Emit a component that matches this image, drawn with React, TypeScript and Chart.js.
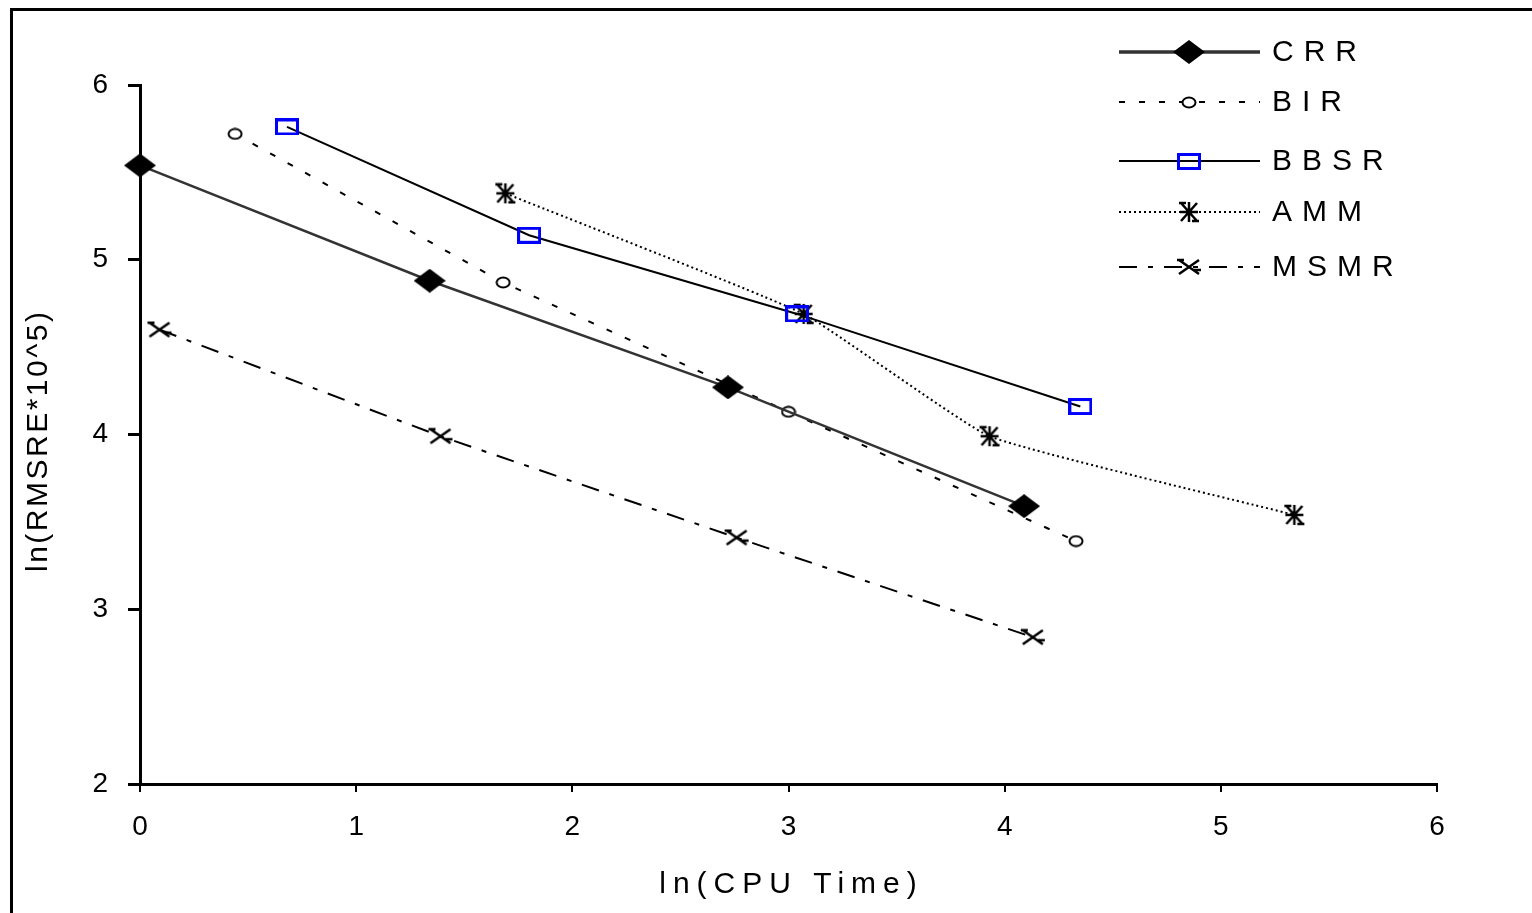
import React, { useEffect, useRef } from 'react';
import { Chart, registerables } from 'chart.js';

Chart.register(...registerables);

// ---- data ----
const seriesNames = ['CRR', 'BIR', 'BBSR', 'AMM', 'MSMR'];

const crrX = [0, 1.34, 2.72, 4.09];
const crrY = [5.54, 4.88, 4.27, 3.59];

const birX = [0.44, 1.68, 3.0, 4.33];
const birY = [5.72, 4.87, 4.13, 3.39];

const bbsrX = [0.68, 1.8, 3.04, 4.35];
const bbsrY = [5.76, 5.14, 4.69, 4.16];

const ammX = [1.69, 3.07, 3.93, 5.34];
const ammY = [5.38, 4.69, 3.99, 3.54];

const msmrX = [0.09, 1.39, 2.76, 4.13];
const msmrY = [4.6, 3.99, 3.41, 2.84];

const xTicks = [0, 1, 2, 3, 4, 5, 6];
const yTicks = [2, 3, 4, 5, 6];

const xTitle = 'ln(CPU Time)';
const yTitle = 'ln(RMSRE*10^5)';

const FONT = '"Liberation Sans", Arial, sans-serif';

function markerCanvas(w: number, h: number, draw: (g: CanvasRenderingContext2D, w: number, h: number) => void) {
  const c = document.createElement('canvas');
  c.width = w;
  c.height = h;
  const g = c.getContext('2d') as CanvasRenderingContext2D;
  draw(g, w, h);
  return c;
}

function makeMarkers() {
  const diamond = markerCanvas(32, 24, (g, w, h) => {
    g.fillStyle = '#000';
    g.beginPath();
    g.moveTo(w / 2, 0);
    g.lineTo(w, h / 2);
    g.lineTo(w / 2, h);
    g.lineTo(0, h / 2);
    g.closePath();
    g.fill();
  });
  const openDot = markerCanvas(16, 13, (g, w, h) => {
    g.fillStyle = '#fff';
    g.strokeStyle = '#000';
    g.lineWidth = 2;
    g.beginPath();
    g.ellipse(w / 2, h / 2, w / 2 - 1.5, h / 2 - 1.5, 0, 0, Math.PI * 2);
    g.fill();
    g.stroke();
  });
  const blueRect = markerCanvas(24, 17, (g, w, h) => {
    g.strokeStyle = '#0000ff';
    g.lineWidth = 3;
    g.strokeRect(1.5, 1.5, w - 3, h - 3);
  });
  const asterisk = markerCanvas(24, 22, (g, w, h) => {
    g.strokeStyle = '#000';
    g.lineWidth = 2.5;
    g.beginPath();
    g.moveTo(w / 2, 1); g.lineTo(w / 2, h - 1);
    g.moveTo(3, h / 2); g.lineTo(w - 3, h / 2);
    g.moveTo(4, 2); g.lineTo(w - 4, h - 2);
    g.moveTo(w - 4, 2); g.lineTo(4, h - 2);
    g.moveTo(2, 2); g.lineTo(9, 2);
    g.moveTo(w - 9, h - 2); g.lineTo(w - 2, h - 2);
    g.stroke();
  });
  const cross = markerCanvas(26, 18, (g, w, h) => {
    g.strokeStyle = '#000';
    g.lineWidth = 2.5;
    g.beginPath();
    g.moveTo(3, 2); g.lineTo(w - 3, h - 2);
    g.moveTo(w - 3, 2); g.lineTo(3, h - 2);
    g.moveTo(1, 2); g.lineTo(8, 2);
    g.moveTo(w - 8, h - 6); g.lineTo(w - 1, h - 6);
    g.stroke();
  });
  return [diamond, openDot, blueRect, asterisk, cross];
}

const lineColors = ['#333333', '#000000', '#000000', '#000000', '#000000'];
const lineWidths = [2.5, 2, 2, 2, 2];
const lineDashes: number[][] = [[], [6, 14], [], [2, 3], [18, 11, 5, 11]];
const tensions = [0, 0, 0, 0.12, 0];

export default function App() {
  const ref = useRef<HTMLCanvasElement | null>(null);

  useEffect(() => {
    const canvas = ref.current;
    if (!canvas) return;
    const markers = makeMarkers();
    const xs = [crrX, birX, bbsrX, ammX, msmrX];
    const ys = [crrY, birY, bbsrY, ammY, msmrY];

    const datasets = seriesNames.map((name, i) => ({
      label: name,
      data: xs[i].map((x, j) => ({ x, y: ys[i][j] })),
      showLine: true,
      borderColor: lineColors[i],
      borderWidth: lineWidths[i],
      borderDash: lineDashes[i],
      tension: tensions[i],
      pointStyle: markers[i],
      pointRadius: 10,
      backgroundColor: 'transparent',
      clip: false,
    }));

    const decor = {
      id: 'decor',
      beforeDraw(chart: any) {
        const ctx = chart.ctx as CanvasRenderingContext2D;
        ctx.save();
        ctx.fillStyle = '#fff';
        ctx.fillRect(0, 0, chart.width, chart.height);
        ctx.fillStyle = '#000';
        ctx.fillRect(10, 8, chart.width - 10, 3);
        ctx.fillRect(10, 8, 3, chart.height - 8);
        ctx.restore();
      },
      afterDraw(chart: any) {
        const ctx = chart.ctx as any;
        ctx.save();
        ctx.fillStyle = '#000';
        ctx.font = `30px ${FONT}`;
        ctx.textBaseline = 'middle';

        // x title
        ctx.letterSpacing = '7px';
        ctx.textAlign = 'center';
        ctx.fillText(xTitle, 788 + 3.5, 885);

        // y title
        ctx.save();
        ctx.translate(39, 442);
        ctx.rotate(-Math.PI / 2);
        ctx.letterSpacing = '2.5px';
        ctx.fillText(yTitle, 1.25, 0);
        ctx.restore();

        // legend
        const rowsY = [52, 102, 161, 212, 267];
        ctx.letterSpacing = '10px';
        ctx.textAlign = 'left';
        seriesNames.forEach((name, i) => {
          const y = rowsY[i];
          ctx.save();
          ctx.strokeStyle = lineColors[i];
          ctx.lineWidth = i === 0 ? 3.5 : lineWidths[i];
          ctx.setLineDash(lineDashes[i]);
          ctx.beginPath();
          ctx.moveTo(1119, y);
          ctx.lineTo(1260, y);
          ctx.stroke();
          ctx.restore();
          const m = markers[i];
          ctx.drawImage(m, Math.round(1189 - m.width / 2), Math.round(y - m.height / 2));
          ctx.fillText(name, 1272, y + 1);
        });
        ctx.restore();
      },
    };

    const chart = new Chart(canvas, {
      type: 'scatter',
      data: { datasets: datasets as any },
      options: {
        animation: false,
        responsive: false,
        devicePixelRatio: 1,
        layout: { padding: { top: 85, right: 95, left: 0, bottom: 0 } },
        plugins: {
          legend: { display: false },
          tooltip: { enabled: false },
        },
        scales: {
          x: {
            type: 'linear',
            min: 0,
            max: 6,
            afterFit: (s: any) => { s.height = 129; },
            afterBuildTicks: (s: any) => { s.ticks = xTicks.map((v) => ({ value: v })); },
            ticks: {
              color: '#000',
              font: { family: FONT, size: 28 },
              padding: 18,
              maxRotation: 0,
              callback: (v: any) => String(v),
            },
            grid: { drawOnChartArea: false, drawTicks: true, tickLength: 8, color: '#000', lineWidth: 2 },
            border: { display: true, color: '#000', width: 3 },
            title: { display: false },
          },
          y: {
            type: 'linear',
            min: 2,
            max: 6,
            afterFit: (s: any) => { s.width = 140; },
            afterBuildTicks: (s: any) => { s.ticks = yTicks.map((v) => ({ value: v })); },
            ticks: {
              color: '#000',
              font: { family: FONT, size: 28 },
              padding: 20,
              callback: (v: any) => String(v),
            },
            grid: { drawOnChartArea: false, drawTicks: true, tickLength: 12, color: '#000', lineWidth: 3 },
            border: { display: true, color: '#000', width: 3 },
            title: { display: false },
          },
        },
      } as any,
      plugins: [decor],
    });

    return () => chart.destroy();
  }, []);

  return (
    <div style={{ position: 'fixed', left: 0, top: 0, width: 1532, height: 913, background: '#fff' }}>
      <canvas ref={ref} width={1532} height={913} style={{ display: 'block', width: 1532, height: 913 }} />
    </div>
  );
}
